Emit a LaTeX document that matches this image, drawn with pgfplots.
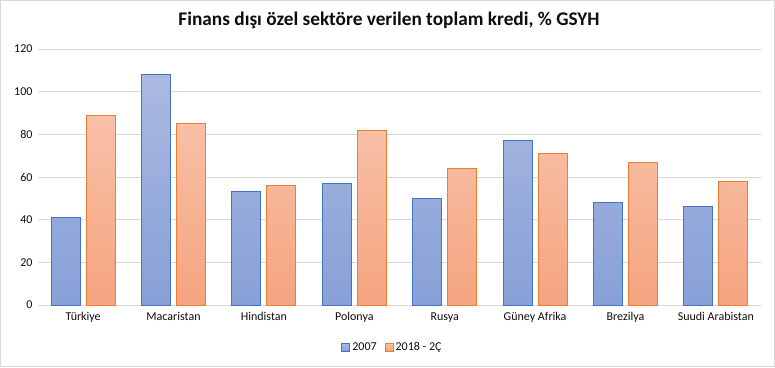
\documentclass[border=0pt]{standalone}
\usepackage{pgfplots}
\pgfplotsset{compat=1.18}
\usepackage{fontspec}
\setmainfont{Carlito}
\definecolor{bedge}{HTML}{4472C4}
\definecolor{oedge}{HTML}{ED7D31}
\definecolor{btop}{HTML}{AAB9E1}
\definecolor{bbot}{HTML}{87A0D7}
\definecolor{otop}{HTML}{F8C1A8}
\definecolor{obot}{HTML}{F5A47F}
\definecolor{gridc}{HTML}{D9D9D9}
\definecolor{txt}{HTML}{0D0D0D}
\begin{document}
\begin{tikzpicture}[x=1pt,y=1pt]
\useasboundingbox (-38,-62) rectangle (737,305);
\draw[gridc, line width=1.2pt] (-37.4,-61.4) rectangle (736.4,304.4);
\begin{axis}[
  at={(0,0)}, anchor=south west,
  scale only axis, width=723pt, height=256pt,
  ybar=6pt, bar width=29pt,
  xmin=-0.5, xmax=7.5, ymin=0, ymax=120,
  ytick={0,20,...,120},
  xtick=data,
  xticklabels={Türkiye,Macaristan,Hindistan,Polonya,Rusya,Güney Afrika,Brezilya,Suudi Arabistan},
  ymajorgrids, grid style={gridc, line width=0.8pt},
  axis line style={draw=none},
  x axis line style={draw=gridc, line width=0.8pt},
  axis x line*=bottom, axis y line*=left,
  major tick length=0pt,
  tick label style={font=\fontsize{12}{14}\selectfont, text=txt},
  /pgf/number format/assume math mode=true,
  yticklabel style={xshift=-2pt},
  xticklabel style={yshift=-4pt},
  legend style={at={(0.5,-0.13)}, anchor=north, xshift=-7pt, draw=none, legend columns=2,
    font=\fontsize{12}{14}\selectfont, text=txt,
    /tikz/every even column/.append style={column sep=6pt}},
  legend image code/.code={\draw[#1] (2pt,-4pt) rectangle (10pt,4pt);},
  clip=false,
]
\addplot[draw=bedge, line width=0.9pt, top color=btop, bottom color=bbot] coordinates
  {(0,41) (1,108) (2,53) (3,57) (4,50) (5,77) (6,48) (7,46)};
\addplot[draw=oedge, line width=0.9pt, top color=otop, bottom color=obot] coordinates
  {(0,89) (1,85) (2,56) (3,82) (4,64) (5,71) (6,67) (7,58)};
\legend{2007, 2018 - 2Ç}
\end{axis}
\node[font=\bfseries\fontsize{19.3}{21}\selectfont, text=txt] at (351,285) {Finans dışı özel sektöre verilen toplam kredi, \% GSYH};
\end{tikzpicture}
\end{document}
